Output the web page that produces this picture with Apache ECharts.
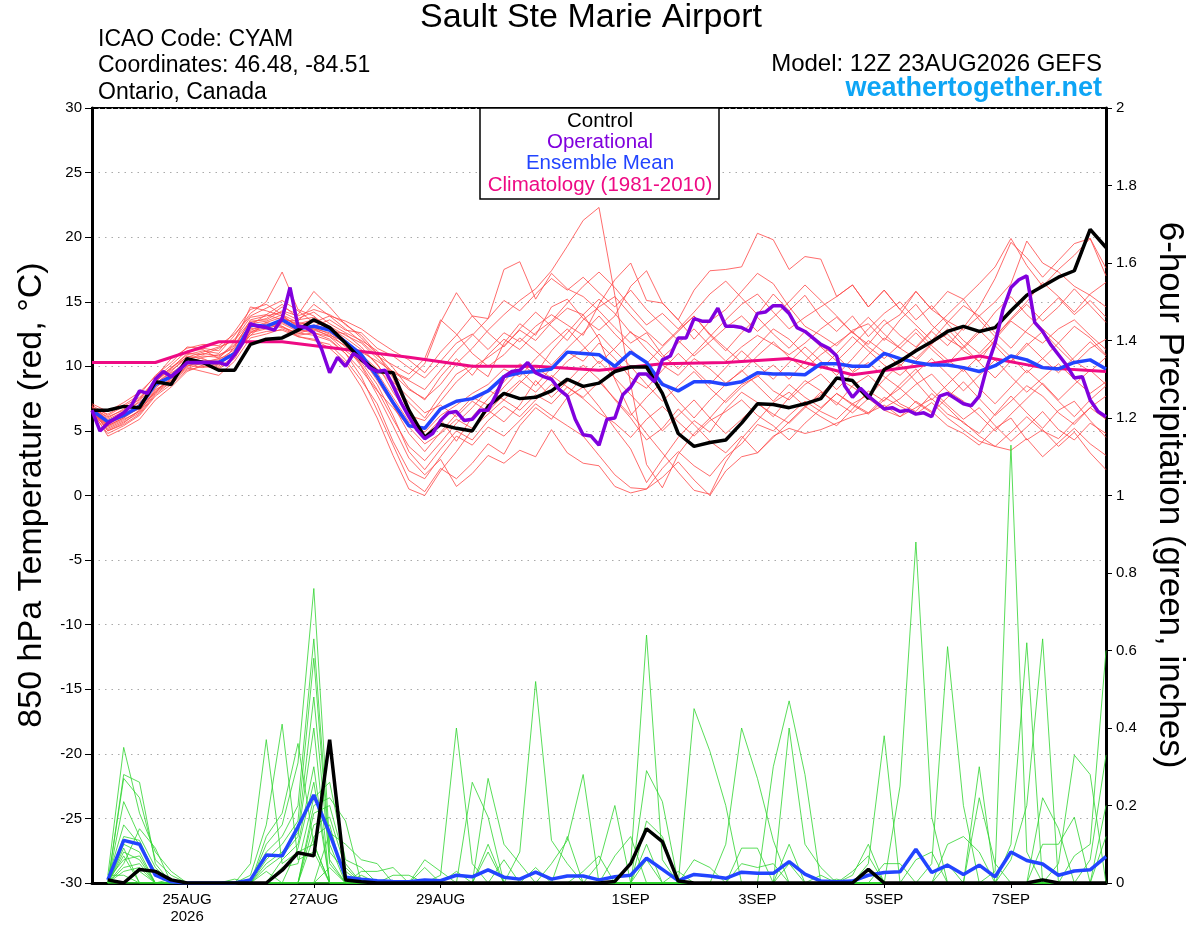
<!DOCTYPE html>
<html lang="en">
  <head>
    <meta charset="UTF-8" />
    <title>Sault Ste Marie Airport</title>
    <script src="https://cdn.jsdelivr.net/npm/echarts@6.0.0/dist/echarts.min.js"></script>
    <style>
      body { margin: 0; background: #fff; }
      #main { width: 1200px; height: 927px; }
    </style>
  </head>
  <body>
    <div id="main"></div>
    <script>
      // x axis is forecast hour from 12Z 23AUG2026
      const tickHours = [36, 84, 132, 204, 252, 300, 348]
      const tickLabels = ['25AUG\n2026', '27AUG', '29AUG', '1SEP', '3SEP', '5SEP', '7SEP']

      // 850 hPa temperature, 6-hourly from hour 0
      const controlT = [6.6, 6.6, 6.9, 6.8, 8.8, 8.6, 10.6, 10.3, 9.7, 9.7,
        11.7, 12.1, 12.2, 12.8, 13.6, 13.0, 11.8, 10.5, 9.6, 9.5,
        6.6, 4.5, 5.5, 5.2, 5.0, 6.9, 7.9, 7.5, 7.6, 8.1,
        9.0, 8.45, 8.7, 9.6, 9.95, 9.95, 7.9, 4.8, 3.8, 4.1,
        4.3, 5.6, 7.1, 7.05, 6.8, 7.1, 7.5, 9.1, 8.9, 7.5,
        9.75, 10.4, 11.2, 11.9, 12.7, 13.1, 12.7, 13.0, 14.3, 15.5,
        16.2, 16.9, 17.4, 20.6, 19.2]
      const meanT = [6.6, 5.7, 6.2, 6.9, 8.6, 9.2, 10.3, 10.3, 10.3, 11.0,
        13.2, 13.1, 13.6, 12.9, 13.1, 12.8, 11.9, 10.9, 9.2, 7.2,
        5.4, 5.2, 6.7, 7.3, 7.5, 8.1, 9.2, 9.5, 9.6, 9.8,
        11.1, 11.0, 10.9, 10.0, 11.1, 10.3, 8.6, 8.1, 8.8, 8.8,
        8.6, 8.8, 9.5, 9.4, 9.4, 9.35, 10.2, 10.2, 10.0, 10.0,
        11.0, 10.6, 10.3, 10.1, 10.1, 9.9, 9.6, 10.05, 10.8, 10.5,
        9.9, 9.8, 10.3, 10.5, 9.8]
      // operational run, 3-hourly from hour 0
      const operT = [6.6, 5.0, 5.6, 6.0, 6.4, 7.0, 8.1, 7.9, 9.0, 9.6,
        9.2, 9.7, 10.3, 10.3, 10.3, 10.3, 10.3, 10.1, 10.9, 11.8,
        13.3, 13.1, 13.0, 12.8, 13.7, 16.1, 13.1, 13.0, 12.6, 11.3,
        9.5, 10.7, 10.0, 11.0, 10.6, 9.9, 9.6, 9.7, 8.5, 7.2,
        6.1, 5.1, 4.4, 4.8, 5.8, 6.4, 6.5, 5.8, 5.9, 6.6,
        6.6, 7.8, 9.2, 9.6, 9.7, 10.3, 9.5, 9.2, 9.0, 8.2,
        7.7, 5.9, 4.7, 4.6, 3.9, 5.9, 6.0, 7.8, 8.4, 9.4,
        9.4, 8.8, 10.5, 10.8, 12.2, 12.2, 13.7, 13.5, 13.5, 14.5,
        13.1, 13.1, 13.0, 12.7, 14.1, 14.2, 14.7, 14.7, 14.1, 13.0,
        12.7, 12.2, 11.7, 11.4, 10.8, 8.5, 7.6, 8.3, 7.7, 7.2,
        6.7, 6.8, 6.5, 6.6, 6.3, 6.4, 6.1, 7.7, 7.9, 7.5,
        7.1, 6.95, 7.7, 10.0, 11.8, 14.4, 16.1, 16.7, 17.0, 13.4,
        12.7, 11.7, 10.9, 10.1, 9.1, 9.2, 7.4, 6.5, 6.1]
      // climatology, daily at 12Z
      const climT = [10.3, 10.3, 11.9, 11.9, 11.3, 10.7, 10.0, 10.0, 9.7,
        10.2, 10.3, 10.6, 9.35, 10.0, 10.8, 9.9, 9.6]

      // ensemble members, 6-hourly from hour 0
      const redMembers = [
        [6.8, 5.9, 6.5, 7.2, 8.4, 9.6, 10.8, 10.6, 10.1, 11.5, 13.6, 13.9, 14.2, 13.6, 13.8, 13.1, 12.4,
          11.8, 10.6, 9.4, 8.2, 7.5, 8.6, 10.2, 11.4, 12.8, 14.0, 15.1, 16.0, 17.4, 19.3, 21.3, 22.3,
          15.5, 8.6, 2.4, 0.6, 3.2, 4.8, 6.0, 7.4, 8.6, 9.2, 10.1, 9.0, 10.4, 11.6, 10.8, 9.6, 10.9, 12.2,
          11.4, 10.6, 11.8, 12.5, 11.2, 10.4, 12.1, 13.5, 12.6, 11.8, 12.9, 13.6, 12.4, 11.3],
        [6.6, 5.0, 5.6, 6.6, 8.0, 9.0, 10.0, 10.4, 10.5, 11.3, 12.8, 13.2, 13.0, 12.6, 12.4, 12.0, 11.0,
          9.2, 6.6, 3.9, 1.2, 0.3, 2.1, 1.3, 2.5, 4.0, 3.2, 5.4, 6.8, 5.9, 7.6, 8.4, 6.9,
          5.2, 3.6, 1.0, 2.8, 4.5, 5.8, 4.9, 6.7, 8.0, 7.2, 6.1, 7.6, 8.9, 8.1, 7.0, 8.5, 9.3, 8.2,
          7.1, 6.5, 7.9, 6.8, 5.6, 4.8, 6.3, 7.7, 6.4, 5.2, 6.6, 7.3, 5.8, 4.5],
        [7.0, 6.2, 6.9, 7.6, 8.9, 9.9, 10.9, 11.2, 11.0, 12.4, 14.1, 15.0, 17.3, 14.4, 13.9, 12.8, 11.7,
          10.9, 9.8, 8.6, 7.2, 6.0, 7.8, 9.4, 10.1, 9.2, 11.8, 13.3, 12.4, 14.6, 15.2, 13.7, 12.8,
          13.9, 16.2, 17.4, 14.9, 13.6, 12.1, 13.5, 14.4, 15.8, 17.2, 16.4, 14.6, 13.1, 12.4, 11.6, 12.8, 13.3, 12.0,
          13.6, 14.8, 13.2, 12.1, 11.4, 12.6, 14.2, 15.4, 14.0, 12.9, 11.8, 13.1, 12.2, 10.9],
        [6.5, 5.4, 6.0, 6.8, 8.3, 9.4, 10.5, 11.0, 10.8, 11.7, 13.4, 13.7, 14.6, 14.0, 15.8, 14.6, 13.2,
          12.4, 11.0, 9.1, 6.4, 4.6, 5.9, 4.2, 6.1, 7.5, 8.8, 10.2, 9.4, 11.2, 12.6, 14.0, 12.1,
          9.0, 6.4, 4.8, 3.3, 1.8, 0.4, 0.1, 2.6, 4.4, 5.8, 7.2, 8.0, 6.9, 7.8, 9.1, 8.4, 7.6, 9.0,
          10.2, 8.8, 7.4, 8.6, 9.8, 8.3, 7.1, 8.4, 9.7, 8.6, 7.3, 6.1, 7.4, 8.5],
        [6.7, 5.6, 6.3, 7.0, 8.7, 9.5, 10.2, 10.1, 10.4, 11.1, 13.0, 13.4, 13.8, 13.2, 13.5, 13.0, 12.2,
          11.3, 10.2, 8.0, 6.2, 5.8, 7.3, 8.8, 9.9, 10.7, 11.6, 12.8, 12.0, 13.4, 14.5, 14.0, 15.2,
          14.1, 12.6, 11.9, 10.7, 11.8, 12.9, 11.6, 10.4, 11.5, 12.4, 11.7, 10.9, 11.8, 12.9, 13.8, 12.6, 11.7, 13.2,
          14.0, 15.8, 14.4, 15.8, 15.2, 16.4, 17.7, 19.9, 17.8, 16.2, 17.5, 18.6, 19.9, 17.0],
        [6.4, 4.8, 5.4, 6.2, 7.7, 8.6, 9.7, 10.0, 9.8, 10.6, 12.6, 12.9, 13.3, 12.7, 12.9, 12.3, 11.2,
          10.3, 8.6, 6.2, 3.4, 2.0, 3.6, 5.0, 4.3, 5.8, 6.9, 6.1, 7.4, 8.6, 7.8, 9.2, 10.4,
          9.1, 7.8, 6.5, 5.0, 6.2, 7.4, 6.0, 4.8, 5.9, 7.1, 6.3, 5.6, 6.8, 8.0, 7.2, 6.4, 7.5, 6.6,
          6.1, 7.3, 6.5, 5.4, 4.8, 3.9, 5.2, 6.0, 4.3, 5.1, 3.8, 4.9, 3.3, 2.0],
        [6.9, 6.0, 6.7, 7.4, 9.0, 10.1, 11.2, 11.3, 10.6, 11.9, 14.6, 14.3, 13.9, 13.1, 12.8, 12.4, 11.9,
          11.1, 10.4, 9.6, 9.0, 10.2, 13.4, 15.7, 13.9, 13.7, 17.5, 18.1, 15.2, 17.2, 16.0, 15.4, 14.3,
          13.0, 11.8, 12.6, 10.9, 9.8, 11.0, 12.3, 13.6, 14.8, 15.6, 14.2, 12.9, 13.8, 14.6, 15.4, 16.3, 14.6, 15.9,
          14.4, 13.2, 12.0, 13.4, 14.7, 13.9, 12.6, 11.4, 12.8, 14.1, 15.3, 14.0, 15.1, 13.8],
        [6.6, 5.3, 5.9, 6.5, 8.1, 9.1, 10.3, 10.7, 10.9, 11.4, 13.1, 13.0, 13.4, 12.8, 12.6, 12.3, 11.6,
          10.0, 7.8, 5.4, 2.9, 1.6, 2.8, 0.7, 1.7, 3.1, 2.5, 3.5, 3.0, 5.1, 3.3, 2.5, 2.3,
          0.7, 0.2, 0.5, 1.4, 2.6, 1.2, 0.0, 1.9, 3.0, 3.3, 4.6, 5.2, 4.8, 5.1, 5.6, 6.1, 6.4, 7.0,
          6.1, 6.8, 7.5, 6.3, 5.7, 4.6, 3.8, 3.5, 4.4, 3.0, 4.1, 5.2, 4.0, 3.1],
        [6.8, 6.3, 7.0, 7.8, 9.3, 10.3, 11.5, 11.4, 11.2, 12.7, 14.4, 14.8, 14.0, 13.4, 13.1, 13.6, 12.8,
          12.6, 11.4, 10.8, 9.9, 9.1, 10.4, 11.8, 12.5, 11.3, 12.6, 11.9, 13.1, 14.0, 13.2, 12.4, 14.8,
          16.7, 18.0, 15.1, 14.9, 13.6, 15.9, 17.4, 17.5, 17.7, 20.3, 19.8, 17.5, 18.5, 18.3, 15.4, 16.3, 14.6, 15.9,
          14.4, 15.8, 14.4, 13.5, 12.8, 13.9, 15.0, 16.4, 19.7, 18.0, 17.3, 16.2, 15.5, 14.6],
        [6.5, 5.5, 6.1, 6.9, 8.5, 9.3, 10.4, 10.2, 9.9, 10.8, 12.9, 13.1, 13.5, 12.9, 13.2, 12.9, 12.0,
          11.0, 9.5, 7.6, 5.7, 4.9, 6.2, 7.0, 7.9, 8.6, 9.8, 9.2, 10.6, 11.8, 12.9, 11.6, 10.2,
          11.4, 12.7, 11.3, 10.1, 9.3, 10.6, 9.8, 8.7, 9.6, 10.8, 11.9, 10.7, 9.8, 10.9, 11.8, 12.7, 11.5, 10.6,
          11.7, 12.9, 11.6, 10.5, 9.6, 10.8, 11.9, 10.7, 9.5, 10.6, 11.8, 10.4, 9.6, 10.7],
        [6.6, 4.6, 5.2, 5.9, 7.4, 8.4, 9.6, 10.1, 10.3, 11.0, 12.4, 12.7, 12.8, 12.3, 12.1, 11.4, 10.3,
          8.4, 6.0, 3.1, 0.5, 0.0, 1.9, 3.4, 5.1, 6.6, 5.7, 7.0, 8.9, 7.6, 8.8, 10.1, 9.0,
          7.4, 6.0, 4.3, 5.2, 6.7, 5.5, 4.2, 3.3, 4.6, 3.3, 4.5, 5.7, 6.9, 6.1, 5.4, 6.7, 8.1, 7.3,
          8.6, 9.8, 8.2, 7.0, 5.9, 6.8, 5.4, 4.2, 5.3, 6.5, 5.1, 4.3, 5.6, 4.8],
        [6.9, 5.8, 6.4, 7.3, 8.8, 9.8, 11.0, 10.9, 11.4, 12.1, 13.8, 14.0, 14.8, 13.7, 14.2, 13.3, 12.6,
          12.0, 11.2, 9.9, 8.3, 7.4, 9.2, 10.6, 9.3, 10.9, 12.1, 11.3, 12.6, 13.5, 14.9, 16.2, 17.3,
          16.1, 14.6, 13.2, 14.1, 12.9, 14.2, 15.6, 16.6, 15.3, 14.0, 15.6, 14.3, 15.5, 13.8, 12.7, 13.9, 12.3, 13.6,
          12.4, 11.5, 12.8, 14.0, 15.2, 13.6, 12.3, 13.7, 15.0, 16.5, 15.4, 14.2, 15.6, 16.5],
        [6.7, 5.1, 5.7, 6.4, 7.9, 8.9, 10.0, 10.5, 10.3, 10.9, 12.6, 13.3, 13.1, 12.5, 13.0, 12.5, 11.5,
          10.7, 8.9, 7.0, 4.8, 3.4, 4.9, 6.3, 7.6, 7.0, 8.4, 9.7, 8.5, 9.9, 11.1, 10.4, 11.8,
          10.6, 9.1, 8.3, 9.7, 11.0, 9.8, 8.6, 9.9, 11.2, 10.1, 9.0, 10.3, 11.5, 10.4, 9.3, 10.6, 12.0, 11.1,
          10.0, 11.4, 12.7, 11.6, 13.0, 14.6, 16.8, 19.6, 18.4, 16.9, 18.2, 19.5, 19.9, 17.6],
        [6.4, 5.2, 5.8, 6.6, 8.2, 8.9, 9.9, 9.6, 9.3, 10.4, 12.2, 12.5, 12.9, 12.4, 12.6, 12.1, 11.0,
          9.7, 8.1, 6.8, 5.3, 4.0, 4.8, 5.9, 5.2, 6.3, 7.4, 6.6, 7.8, 7.1, 8.4, 7.5, 6.4,
          5.6, 4.5, 5.9, 6.9, 5.7, 4.6, 5.8, 6.5, 7.4, 6.2, 5.4, 4.3, 5.6, 6.7, 7.9, 7.0, 6.3, 7.4,
          8.3, 7.2, 6.4, 7.6, 8.8, 7.5, 6.2, 7.3, 8.5, 7.7, 6.4, 5.5, 6.8, 7.7],
        [7.1, 6.5, 7.2, 8.0, 9.2, 10.6, 11.4, 11.7, 11.6, 12.5, 13.9, 14.5, 15.1, 14.3, 13.4, 13.9, 13.5,
          12.9, 12.0, 11.2, 10.5, 9.5, 11.1, 12.4, 13.9, 12.6, 11.5, 12.9, 14.2, 13.1, 12.0, 13.6, 14.6,
          15.4, 14.0, 12.7, 11.6, 12.8, 13.9, 12.4, 11.2, 12.6, 13.8, 12.5, 11.4, 12.7, 11.5, 10.4, 11.6, 12.9, 14.1,
          15.0, 13.6, 14.7, 13.3, 12.0, 11.0, 12.3, 13.6, 14.8, 13.5, 14.6, 16.0, 14.7, 13.4],
        [6.5, 5.7, 6.2, 6.7, 8.6, 9.7, 10.6, 10.4, 10.0, 11.2, 13.3, 13.5, 14.0, 13.0, 12.9, 12.6, 11.8,
          10.1, 8.2, 5.9, 3.8, 2.7, 4.1, 5.6, 6.8, 8.2, 7.4, 8.7, 9.9, 9.1, 10.4, 11.3, 12.5,
          11.2, 10.0, 8.6, 7.3, 8.5, 9.6, 8.3, 7.2, 8.4, 9.3, 8.1, 7.4, 8.6, 9.4, 8.2, 9.5, 10.3, 9.2,
          8.3, 9.5, 10.6, 9.4, 8.1, 9.3, 10.5, 9.2, 8.0, 9.1, 10.2, 9.0, 7.9, 8.8],
        [6.7, 5.4, 6.0, 7.1, 8.5, 9.2, 10.1, 9.9, 10.2, 10.9, 12.7, 13.0, 13.7, 13.3, 13.6, 12.8, 12.5,
          11.5, 10.1, 8.8, 7.6, 6.4, 7.0, 6.1, 7.3, 6.5, 7.8, 8.9, 8.0, 9.3, 8.4, 7.6, 8.8,
          7.5, 6.2, 7.6, 8.8, 7.3, 6.0, 7.4, 8.6, 9.7, 8.5, 7.3, 8.6, 7.6, 6.8, 7.9, 7.1, 6.4, 7.6,
          6.9, 6.3, 7.2, 6.0, 5.1, 4.2, 3.8, 4.9, 6.1, 5.0, 4.4, 5.7, 6.8, 5.9],
        [6.8, 6.1, 6.6, 7.5, 8.8, 9.9, 10.7, 11.1, 11.5, 12.0, 13.5, 13.6, 14.3, 13.9, 14.4, 14.0, 13.3,
          12.2, 10.9, 9.5, 8.9, 8.2, 9.7, 11.2, 12.4, 13.7, 15.1, 14.3, 15.6, 16.8, 15.9, 16.9, 15.7,
          14.6, 15.9, 14.4, 13.2, 12.0, 10.8, 11.9, 13.0, 13.9, 12.7, 13.8, 15.0, 16.3, 15.1, 13.9, 12.6, 13.8, 12.5,
          11.4, 12.6, 11.3, 10.2, 11.5, 12.8, 11.6, 10.3, 11.6, 12.7, 11.4, 10.2, 11.4, 12.1],
        [6.6, 5.0, 5.5, 6.3, 7.8, 8.8, 9.8, 10.3, 10.6, 11.0, 12.4, 13.4, 13.1, 12.3, 12.0, 11.7, 10.5,
          8.9, 7.1, 4.2, 1.9, 1.3, 3.0, 4.6, 3.9, 5.3, 4.6, 5.8, 7.1, 6.2, 5.4, 4.6, 3.1,
          1.6, 0.6, 0.5, 2.1, 3.4, 2.3, 1.5, 3.0, 4.0, 5.5, 5.0, 6.2, 7.3, 6.5, 5.9, 7.1, 7.8, 6.8,
          7.5, 8.6, 9.4, 8.1, 7.3, 6.2, 5.0, 6.3, 7.5, 8.7, 7.4, 8.6, 9.7, 8.6],
        [6.9, 5.6, 6.1, 6.9, 8.0, 9.1, 10.6, 10.8, 10.7, 11.6, 13.2, 14.0, 13.6, 13.5, 14.8, 13.9, 12.9,
          11.9, 10.8, 10.1, 9.4, 10.6, 13.6, 12.5, 11.0, 10.0, 10.9, 12.2, 11.2, 10.1, 11.4, 12.6, 13.9,
          12.5, 11.3, 10.2, 11.5, 12.7, 13.9, 12.5, 11.4, 10.3, 11.6, 12.9, 12.1, 10.9, 9.8, 11.0, 12.3, 11.2, 10.1,
          9.3, 10.4, 11.7, 12.9, 11.6, 10.3, 9.1, 10.4, 11.8, 10.6, 9.5, 10.7, 11.9, 10.8]
      ]

      // 6-hour precipitation (inches), 6-hourly from hour 6
      const controlP = [0.008, 0, 0.035, 0.03, 0.008, 0, 0, 0, 0, 0,
        0, 0.033, 0.078, 0.07, 0.37, 0.008, 0.003, 0, 0, 0,
        0, 0, 0, 0, 0, 0, 0, 0, 0, 0,
        0, 0, 0.004, 0.05, 0.14, 0.107, 0.005, 0, 0, 0,
        0, 0, 0, 0, 0, 0, 0, 0, 0.035, 0,
        0, 0, 0, 0, 0, 0, 0, 0, 0, 0.008,
        0, 0, 0, 0]
      const meanP = [0.008, 0.11, 0.1, 0.02, 0.003, 0, 0, 0, 0, 0.008,
        0.072, 0.07, 0.145, 0.227, 0.128, 0.015, 0.01, 0.006, 0.004, 0.003,
        0.008, 0.006, 0.02, 0.016, 0.034, 0.015, 0.01, 0.028, 0.01, 0.018,
        0.018, 0.008, 0.016, 0.02, 0.064, 0.035, 0.006, 0.022, 0.018, 0.012,
        0.028, 0.025, 0.025, 0.055, 0.023, 0.005, 0.003, 0.005, 0.02, 0.027,
        0.029, 0.087, 0.027, 0.046, 0.022, 0.046, 0.016, 0.08, 0.058, 0.049,
        0.02, 0.031, 0.034, 0.068]
      const greenMembers = [
        [0.02, 0.35, 0.18, 0.08, 0.03, 0, 0, 0, 0, 0, 0, 0.04, 0.05, 0.22, 0.26, 0.06, 0.04, 0, 0, 0,
          0, 0, 0, 0, 0, 0, 0, 0, 0, 0, 0, 0, 0, 0, 0, 0, 0, 0, 0, 0,
          0, 0, 0, 0.4, 0.1, 0.04, 0, 0, 0, 0, 0, 0, 0, 0, 0, 0, 0, 0, 0, 0, 0, 0, 0.06, 0.33],
        [0, 0.28, 0.26, 0.05, 0, 0, 0, 0, 0, 0, 0, 0, 0, 0.2, 0.22, 0.16, 0, 0, 0, 0,
          0, 0, 0.03, 0, 0, 0, 0, 0, 0, 0, 0, 0, 0, 0, 0, 0, 0, 0, 0, 0,
          0, 0, 0, 0.1, 0, 0.02, 0, 0, 0, 0, 0, 0, 0, 0, 0, 0, 0, 0, 0, 0, 0, 0, 0, 0.2],
        [0, 0.27, 0.22, 0.06, 0.02, 0, 0, 0, 0, 0, 0.03, 0, 0, 0.18, 0.2, 0.05, 0, 0, 0, 0,
          0, 0, 0, 0, 0.08, 0, 0, 0, 0, 0, 0, 0, 0, 0, 0, 0, 0, 0, 0, 0,
          0, 0, 0, 0.05, 0, 0, 0.01, 0, 0, 0, 0, 0, 0, 0, 0, 0, 0, 0, 0, 0, 0, 0, 0, 0.12],
        [0, 0.21, 0.12, 0.04, 0, 0, 0, 0, 0.01, 0, 0, 0, 0, 0.15, 0.17, 0.04, 0, 0, 0, 0,
          0, 0, 0, 0, 0, 0.06, 0, 0, 0, 0, 0, 0, 0, 0, 0, 0, 0, 0, 0, 0,
          0, 0, 0, 0, 0, 0, 0, 0.02, 0.1, 0, 0, 0, 0, 0, 0, 0, 0, 0, 0, 0, 0, 0, 0, 0],
        [0.01, 0.15, 0.1, 0.03, 0, 0, 0, 0, 0, 0, 0, 0, 0, 0.12, 0.15, 0, 0, 0, 0, 0,
          0, 0, 0, 0, 0, 0, 0.08, 0.52, 0.11, 0.05, 0, 0, 0, 0, 0, 0, 0, 0, 0, 0,
          0, 0, 0, 0, 0, 0, 0, 0.03, 0.07, 0, 0, 0, 0, 0, 0, 0, 0, 0, 0, 0, 0, 0, 0, 0],
        [0, 0.12, 0.11, 0.02, 0, 0, 0, 0, 0, 0, 0, 0, 0, 0, 0.13, 0.1, 0.06, 0.05, 0, 0,
          0, 0, 0, 0, 0, 0, 0, 0.04, 0, 0.12, 0, 0, 0, 0, 0, 0, 0, 0, 0, 0,
          0, 0, 0, 0, 0, 0, 0, 0, 0.05, 0.38, 0, 0, 0, 0, 0, 0, 0, 0, 0, 0, 0, 0, 0, 0],
        [0, 0.1, 0.08, 0, 0.01, 0, 0, 0, 0, 0, 0, 0, 0, 0, 0.04, 0, 0.03, 0.03, 0.04, 0,
          0, 0, 0, 0, 0, 0, 0, 0, 0.05, 0.11, 0.28, 0, 0, 0, 0, 0, 0, 0, 0, 0,
          0, 0, 0, 0, 0, 0, 0, 0, 0, 0.05, 0.05, 0, 0, 0, 0, 0, 0, 0, 0, 0, 0, 0, 0, 0],
        [0, 0.08, 0.06, 0, 0, 0, 0, 0, 0, 0.05, 0.37, 0.05, 0.08, 0.1, 0, 0, 0, 0, 0.02, 0.02,
          0, 0, 0, 0, 0, 0, 0, 0, 0, 0, 0.03, 0.07, 0, 0, 0, 0, 0, 0, 0, 0,
          0, 0, 0, 0, 0, 0, 0, 0, 0, 0, 0.25, 0.88, 0.17, 0, 0, 0, 0, 0, 0, 0, 0, 0, 0, 0],
        [0.01, 0.06, 0.07, 0, 0, 0, 0, 0, 0, 0.02, 0.15, 0.41, 0.06, 0.08, 0, 0, 0, 0, 0, 0,
          0.06, 0.03, 0, 0, 0, 0, 0, 0, 0, 0, 0, 0.05, 0.2, 0, 0, 0, 0, 0, 0, 0,
          0, 0, 0, 0, 0, 0, 0, 0, 0, 0, 0, 0.06, 0.08, 0, 0, 0, 0, 0, 0, 0, 0, 0, 0, 0],
        [0, 0.05, 0.14, 0.09, 0, 0, 0, 0, 0, 0, 0.12, 0.18, 0.36, 0.1, 0, 0, 0, 0, 0, 0,
          0.04, 0, 0, 0, 0, 0, 0, 0, 0, 0, 0, 0, 0.07, 0.12, 0, 0, 0, 0, 0, 0,
          0, 0, 0, 0, 0, 0, 0, 0, 0, 0, 0, 0, 0.05, 0.61, 0.2, 0, 0, 0, 0, 0, 0, 0, 0, 0],
        [0, 0.04, 0.05, 0, 0, 0, 0, 0, 0, 0, 0.1, 0.15, 0.31, 0.76, 0.1, 0, 0, 0, 0, 0,
          0, 0, 0, 0, 0, 0, 0, 0, 0, 0, 0, 0, 0, 0.05, 0.64, 0.06, 0, 0, 0, 0,
          0, 0, 0, 0, 0, 0, 0, 0, 0, 0, 0, 0, 0, 0.1, 0.12, 0.08, 0, 0, 0, 0, 0, 0, 0, 0],
        [0, 0.03, 0.04, 0, 0, 0, 0, 0, 0, 0.01, 0.08, 0.12, 0.2, 0.63, 0.08, 0.03, 0, 0, 0, 0,
          0, 0, 0, 0, 0, 0, 0, 0, 0, 0, 0, 0, 0, 0, 0.29, 0.21, 0, 0, 0, 0,
          0, 0, 0, 0, 0, 0, 0, 0, 0, 0, 0, 0, 0, 0.05, 0, 0.3, 0, 0, 0, 0, 0, 0, 0, 0],
        [0.02, 0.02, 0, 0, 0, 0, 0, 0, 0, 0, 0.06, 0.1, 0.16, 0.58, 0.06, 0, 0, 0, 0, 0,
          0, 0, 0, 0, 0, 0, 0, 0, 0, 0, 0, 0, 0, 0, 0.16, 0.12, 0, 0, 0, 0,
          0, 0, 0, 0, 0, 0, 0, 0, 0, 0, 0, 0, 0, 0, 0, 0.22, 0.05, 0, 0, 0, 0, 0, 0, 0],
        [0, 0.07, 0, 0, 0, 0, 0, 0, 0, 0, 0.05, 0.08, 0.13, 0.48, 0.05, 0, 0.02, 0, 0, 0,
          0, 0, 0, 0, 0, 0, 0, 0, 0, 0, 0, 0, 0, 0, 0.1, 0, 0.03, 0, 0, 0,
          0, 0, 0, 0, 0, 0, 0, 0, 0, 0, 0, 0, 0, 0, 0, 0, 0.03, 1.13, 0.08, 0, 0, 0, 0, 0],
        [0, 0.09, 0, 0, 0, 0, 0, 0, 0, 0, 0.04, 0.07, 0.12, 0.4, 0, 0, 0, 0, 0, 0,
          0, 0, 0, 0, 0, 0, 0, 0, 0, 0, 0, 0, 0, 0, 0.06, 0, 0, 0.45, 0.34, 0.2,
          0, 0, 0, 0, 0, 0, 0, 0, 0, 0, 0, 0, 0, 0, 0, 0, 0, 0.1, 0.62, 0, 0, 0, 0, 0],
        [0, 0, 0.03, 0, 0, 0, 0, 0, 0, 0, 0, 0.06, 0.1, 0.3, 0, 0, 0, 0, 0, 0,
          0, 0, 0, 0, 0, 0, 0, 0, 0, 0, 0, 0, 0, 0, 0, 0, 0, 0.06, 0.04, 0,
          0, 0, 0, 0, 0, 0, 0, 0, 0, 0, 0, 0, 0, 0, 0, 0, 0, 0.06, 0.2, 0.63, 0, 0, 0, 0],
        [0, 0, 0, 0, 0, 0, 0, 0, 0, 0, 0, 0, 0.09, 0.26, 0, 0, 0, 0, 0, 0,
          0, 0, 0, 0, 0.1, 0, 0, 0, 0, 0, 0, 0, 0, 0, 0, 0, 0, 0, 0, 0.1,
          0.4, 0.27, 0.11, 0, 0, 0, 0, 0, 0, 0, 0, 0, 0, 0, 0, 0, 0, 0, 0, 0.22, 0.14, 0, 0, 0],
        [0, 0, 0, 0, 0, 0, 0, 0, 0, 0, 0, 0, 0, 0, 0, 0, 0, 0, 0, 0,
          0, 0.02, 0.4, 0.05, 0, 0, 0, 0, 0, 0, 0, 0, 0, 0, 0, 0, 0, 0, 0, 0,
          0.09, 0.09, 0, 0, 0, 0, 0, 0, 0, 0, 0, 0, 0, 0, 0, 0, 0, 0, 0, 0.1, 0.1, 0.17, 0, 0],
        [0, 0, 0, 0, 0, 0, 0, 0, 0, 0, 0, 0, 0, 0, 0, 0, 0, 0, 0, 0,
          0, 0, 0, 0.26, 0.17, 0, 0, 0, 0, 0, 0, 0, 0, 0, 0, 0, 0, 0, 0, 0,
          0.05, 0.04, 0.05, 0, 0, 0, 0, 0, 0, 0, 0, 0, 0, 0, 0, 0, 0, 0, 0, 0, 0.05, 0.33, 0.28, 0],
        [0, 0, 0, 0, 0, 0, 0, 0, 0, 0, 0, 0, 0, 0, 0, 0, 0, 0, 0, 0,
          0, 0, 0, 0, 0.27, 0.1, 0.05, 0, 0, 0, 0, 0, 0, 0, 0, 0, 0, 0, 0, 0,
          0, 0, 0.3, 0.47, 0.28, 0, 0, 0, 0, 0, 0, 0, 0, 0, 0, 0, 0, 0, 0, 0, 0, 0.07, 0.1, 0.6]
      ]

      const FONT = '"Liberation Sans", Arial, Helvetica, sans-serif'
      const RED = '#ff4646'
      const GREEN = '#2ed42e'
      const BLUE = '#2244ff'
      const PURPLE = '#8000dd'
      const MAGENTA = '#ee0a84'

      // turn a list of values into [hour, value] points
      function pairs(vals, step, first) {
        return vals.map((v, k) => [(first + k) * step, v])
      }

      function line(data, yIdx, color, width, z) {
        return {
          type: 'line',
          data: data,
          yAxisIndex: yIdx,
          symbol: 'none',
          silent: true,
          z: z,
          lineStyle: { color: color, width: width },
        }
      }

      const series = []
      redMembers.forEach((m) => series.push(line(pairs(m, 6, 0), 0, RED, 0.8, 1)))
      greenMembers.forEach((m) => series.push(line(pairs(m, 6, 1), 1, GREEN, 0.8, 1)))
      series.push(line(pairs(climT, 24, 0), 0, MAGENTA, 3, 3))
      series.push(line(pairs(meanT, 6, 0), 0, BLUE, 3.5, 4))
      series.push(line(pairs(meanP, 6, 1), 1, BLUE, 3.5, 4))
      series.push(line(pairs(controlT, 6, 0), 0, '#000', 3.5, 5))
      series.push(line(pairs(controlP, 6, 1), 1, '#000', 3.5, 5))
      series.push(line(pairs(operT, 3, 0), 0, PURPLE, 3.5, 6))

      function txt(text, x, y, font, color, align, extra) {
        return Object.assign({
          type: 'text',
          x: x,
          y: y,
          z: 100,
          style: {
            text: text,
            font: `${font} ${FONT}`,
            fill: color,
            align: align,
            textAlign: align,
            verticalAlign: 'middle',
            textVerticalAlign: 'middle',
          },
        }, extra || {})
      }

      const myChart = echarts.init(document.getElementById('main'))
      const option = {
        animation: false,
        backgroundColor: '#fff',
        grid: {
          left: 92, right: 94, top: 108, bottom: 44,
          show: true, borderColor: '#000', borderWidth: 2,
        },
        xAxis: {
          type: 'value',
          min: 0,
          max: 384,
          splitLine: { show: false },
          axisLine: { onZero: false, lineStyle: { color: '#000', width: 3 } },
          axisTick: { customValues: tickHours, length: 5, lineStyle: { color: '#000', width: 1 } },
          axisLabel: {
            customValues: tickHours,
            formatter: (v) => tickLabels[tickHours.indexOf(v)],
            color: '#000', fontSize: 15, fontFamily: FONT, lineHeight: 17, margin: 8,
          },
        },
        yAxis: [
          {
            type: 'value',
            min: -30, max: 30, interval: 5,
            axisLine: { show: true, lineStyle: { color: '#000', width: 3 } },
            axisTick: { show: true, length: 7, lineStyle: { color: '#000' } },
            axisLabel: { color: '#000', fontSize: 15, fontFamily: FONT, margin: 10 },
            splitLine: { show: true, lineStyle: { color: '#aaa', width: 1, type: [1.5, 5] } },
          },
          {
            type: 'value',
            position: 'right',
            min: 0, max: 2, interval: 0.2,
            axisLine: { show: true, lineStyle: { color: '#000', width: 3 } },
            axisTick: { show: true, length: 6, lineStyle: { color: '#000' } },
            axisLabel: {
              color: '#000', fontSize: 15, fontFamily: FONT, margin: 10,
              formatter: (v) => String(Number(v.toFixed(1))),
            },
            splitLine: { show: false },
          },
        ],
        graphic: [
          txt('Sault Ste Marie Airport', 591, 18, '34px', '#000', 'center'),
          txt('ICAO Code: CYAM', 98, 40, '23px', '#000', 'left'),
          txt('Coordinates: 46.48, -84.51', 98, 66, '23px', '#000', 'left'),
          txt('Ontario, Canada', 98, 93, '23px', '#000', 'left'),
          txt('Model: 12Z 23AUG2026 GEFS', 1102, 64, '24px', '#000', 'right'),
          txt('weathertogether.net', 1102, 89, 'bold 27px', '#0ea5f5', 'right'),
          {
            type: 'rect', z: 99,
            shape: { x: 480, y: 108, width: 239, height: 91 },
            style: { fill: '#fff', stroke: '#000', lineWidth: 1.5 },
          },
          txt('Control', 600, 121, '20.5px', '#000', 'center'),
          txt('Operational', 600, 142, '20.5px', PURPLE, 'center'),
          txt('Ensemble Mean', 600, 163, '20.5px', BLUE, 'center'),
          txt('Climatology (1981-2010)', 600, 185, '20.5px', MAGENTA, 'center'),
          txt('850 hPa Temperature (red, °C)', 32, 495, '34px', '#000', 'center', { rotation: Math.PI / 2 }),
          txt('6-hour Precipitation (green, inches)', 1170, 495, '35px', '#000', 'center', { rotation: -Math.PI / 2 }),
        ],
        series: series,
      }
      myChart.setOption(option)
    </script>
  </body>
</html>
